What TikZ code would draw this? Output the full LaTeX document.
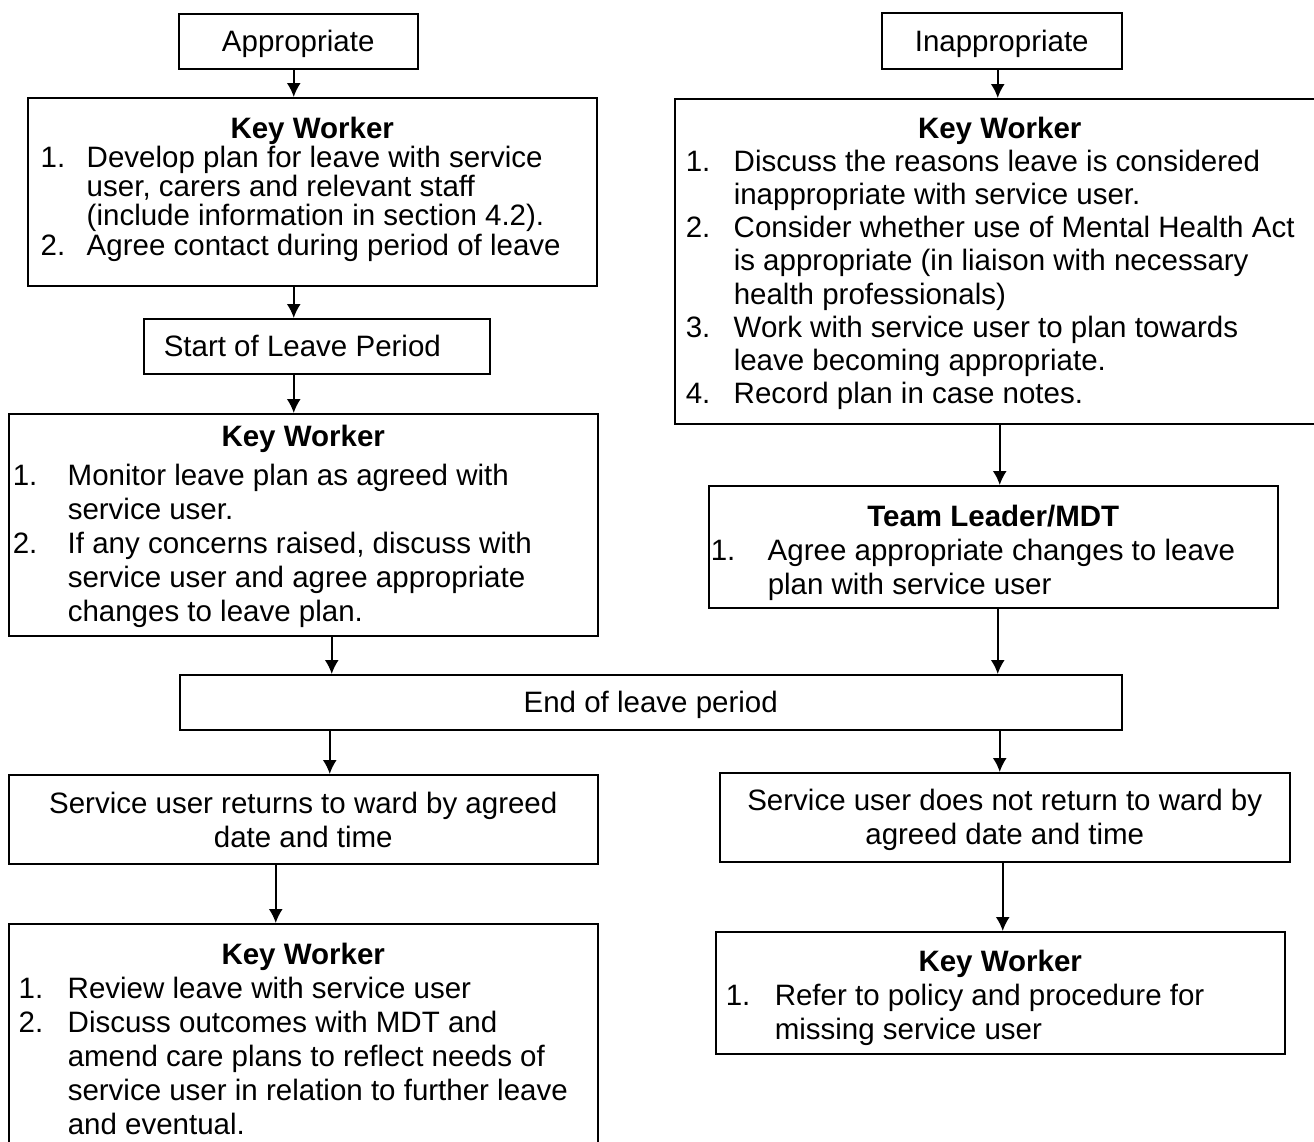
\documentclass[tikz,border=0pt]{standalone}
\usepackage{fontspec}
\setmainfont{Liberation Sans}
\usetikzlibrary{arrows.meta}

\newcommand{\hd}[1]{{\centering\bfseries #1\par}}
\newcommand{\li}[3]{\par\lineskip=0pt\noindent\hspace*{#1}\makebox[\dimexpr29.5pt-#1\relax][l]{\strut#2}\parbox[t]{\dimexpr\linewidth-29.5pt\relax}{#3\strut}\par}

\tikzset{
  box/.style={draw, line width=0.75pt, inner sep=0pt, anchor=north west, font=\fontsize{14.75}{17}\selectfont},
  arr/.style={->, line width=0.9pt},
  >={Latex[length=7pt,width=7pt]}
}

\begin{document}
\begin{tikzpicture}[x=0.5pt,y=-0.5pt]
\useasboundingbox (0,0) rectangle (1314,1142);
\node[box] (app) at (178,13) {\parbox[c][27.5pt][c]{119.5pt}{\vspace*{3pt}\centering Appropriate}};
\node[box] (inapp) at (881,12) {\parbox[c][28pt][c]{120pt}{\vspace*{3pt}\centering Inappropriate}};
\node[box] (kw1) at (27,97) {\parbox[c][94pt][t]{284.5pt}{\fontsize{14.75}{14.5}\selectfont\vspace*{9.5pt}\hd{Key Worker}
  \li{6.5pt}{1.}{Develop plan for leave with service\\user, carers and relevant staff\\(include information in section 4.2).}
  \li{6.5pt}{2.}{Agree contact during period of leave}}};
\node[box] (start) at (143,318) {\parbox[c][27.5pt][c]{173pt}{\hspace*{10pt}Start of Leave Period}};
\node[box] (kw3) at (8,413) {\parbox[c][111pt][t]{294.5pt}{\vspace*{5.5pt}\hd{Key Worker}\vspace{2.5pt}
  \li{2pt}{1.}{Monitor leave plan as agreed with\\service user.}
  \li{2pt}{2.}{If any concerns raised, discuss with\\service user and agree appropriate\\changes to leave plan.}}};
\node[box] (kwR) at (674,98) {\parbox[c][162.5pt][t]{325pt}{\fontsize{14.75}{16.6}\selectfont\vspace*{9pt}\hd{Key Worker}
  \li{5.5pt}{1.}{Discuss the reasons leave is considered\\inappropriate with service user.}
  \li{5.5pt}{2.}{Consider whether use of Mental Health Act\\is appropriate (in liaison with necessary\\health professionals)}
  \li{5.5pt}{3.}{Work with service user to plan towards\\leave becoming appropriate.}
  \li{5.5pt}{4.}{Record plan in case notes.}}};
\node[box] (tl) at (708,485) {\parbox[c][61pt][t]{284.5pt}{\vspace*{9.5pt}\hd{Team Leader/MDT}
  \li{1pt}{1.}{Agree appropriate changes to leave\\plan with service user}}};
\node[box] (endp) at (179,674) {\parbox[c][27.5pt][c]{471pt}{\vspace*{3pt}\centering End of leave period}};
\node[box] (ret) at (8,774) {\parbox[c][44.5pt][c]{294.5pt}{\vspace*{1pt}\centering Service user returns to ward by agreed\\date and time}};
\node[box] (notret) at (719,772) {\parbox[c][44.5pt][c]{285pt}{\vspace*{3pt}\centering Service user does not return to ward by\\agreed date and time}};
\node[box] (kwl) at (8,923) {\parbox[c][112pt][t]{294.5pt}{\vspace*{9.5pt}\hd{Key Worker}
  \li{5pt}{1.}{Review leave with service user}
  \li{5pt}{2.}{Discuss outcomes with MDT and\\amend care plans to reflect needs of\\service user in relation to further leave\\and eventual.}}};
\node[box] (kwr2) at (715,931) {\parbox[c][61pt][t]{284.5pt}{\vspace*{9pt}\hd{Key Worker}
  \li{5pt}{1.}{Refer to policy and procedure for\\missing service user}}};
\draw[arr] ([xshift=-2.25pt]app.south) -- ([xshift=-2.25pt]app.south |- kw1.north);
\draw[arr] ([xshift=-9.25pt]kw1.south) -- ([xshift=-9.25pt]kw1.south |- start.north);
\draw[arr] ([xshift=-11.5pt]start.south) -- ([xshift=-11.5pt]start.south |- kw3.north);
\draw[arr] ([xshift=14.25pt]kw3.south) -- ([xshift=14.25pt]kw3.south |- endp.north);
\draw[arr] ([xshift=-2pt]inapp.south) -- ([xshift=-2pt]inapp.south |- kwR.north);
\draw[arr] (kwR.south) -- (kwR.south |- tl.north);
\draw[arr] ([xshift=2.25pt]tl.south) -- ([xshift=2.25pt]tl.south |- endp.north);
\draw[arr] ([xshift=13.25pt]ret.north |- endp.south) -- ([xshift=13.25pt]ret.north);
\draw[arr] ([xshift=-2.5pt]notret.north |- endp.south) -- ([xshift=-2.5pt]notret.north);
\draw[arr] ([xshift=-13.75pt]ret.south) -- ([xshift=-13.75pt]ret.south |- kwl.north);
\draw[arr] ([xshift=-1pt]notret.south) -- ([xshift=-1pt]notret.south |- kwr2.north);
\end{tikzpicture}
\end{document}
